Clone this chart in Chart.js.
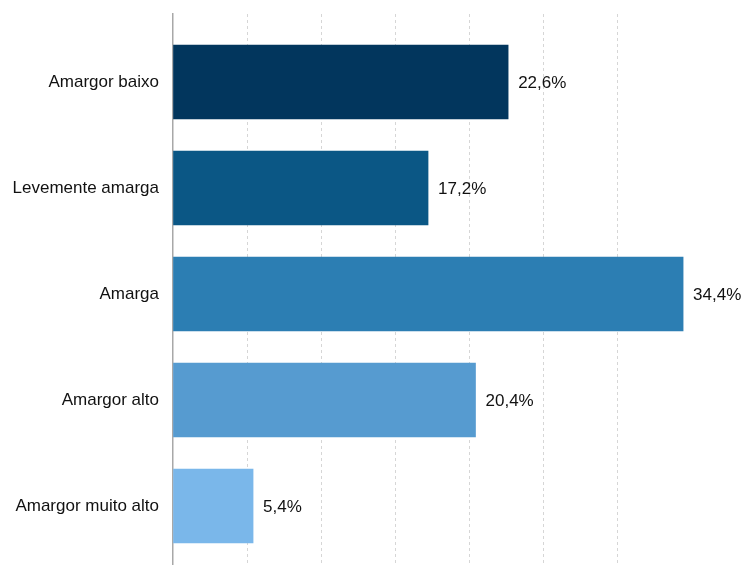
<!DOCTYPE html>
<html>
<head>
<meta charset="utf-8">
<script src="https://cdn.jsdelivr.net/npm/chart.js@4"></script>
<style>
  html, body { margin: 0; padding: 0; background: #ffffff; }
  #wrap { width: 742px; height: 565px; }
</style>
</head>
<body>
<div id="wrap"><canvas id="c" width="742" height="565"></canvas></div>
<script>
const categories = ["Amargor baixo", "Levemente amarga", "Amarga", "Amargor alto", "Amargor muito alto"];
const values = [22.6, 17.2, 34.4, 20.4, 5.4];
const valueLabels = ["22,6%", "17,2%", "34,4%", "20,4%", "5,4%"];
const barColors = ["#02365d", "#0b5785", "#2c7eb3", "#569bd0", "#7ab7ea"];

const FONT = '"Liberation Sans", Arial, sans-serif';

const valueLabelPlugin = {
  id: 'valueLabels',
  afterDatasetsDraw(chart) {
    const ctx = chart.ctx;
    const meta = chart.getDatasetMeta(0);
    ctx.save();
    ctx.font = '17px ' + FONT;
    ctx.fillStyle = '#111111';
    ctx.textAlign = 'left';
    ctx.textBaseline = 'middle';
    meta.data.forEach((bar, i) => {
      ctx.fillText(valueLabels[i], bar.x + 10, bar.y + 1);
    });
    ctx.restore();
  }
};

new Chart(document.getElementById('c'), {
  type: 'bar',
  data: {
    datasets: [{
      data: values.map((v, i) => ({ x: v, y: i })),
      backgroundColor: barColors,
      borderWidth: 0,
      barThickness: 74
    }]
  },
  options: {
    indexAxis: 'y',
    responsive: false,
    animation: false,
    layout: { padding: { top: 14, right: 50, bottom: 0, left: 0 } },
    plugins: { legend: { display: false }, tooltip: { enabled: false } },
    scales: {
      x: {
        type: 'linear',
        min: 0,
        max: 35,
        offset: false,
        ticks: { display: false, stepSize: 5 },
        grid: {
          drawTicks: false,
          lineWidth: 1,
          color: (c) => (c.tick && (c.tick.value === 0 || c.tick.value >= 35)) ? 'rgba(0,0,0,0)' : '#d6d6d6'
        },
        border: { display: false, dash: [3, 3] },
        afterFit(s) { s.height = 0; s.paddingLeft = 0; s.paddingRight = 0; }
      },
      y: {
        type: 'linear',
        reverse: true,
        offset: false,
        min: -0.6415,
        max: 4.557,
        ticks: {
          stepSize: 1,
          autoSkip: false,
          padding: 14,
          color: '#111111',
          font: { family: FONT, size: 17 },
          callback: (v) => {
            const r = Math.round(v);
            return Math.abs(v - r) < 1e-6 && categories[r] !== undefined ? categories[r] : '';
          }
        },
        grid: { display: false, drawTicks: false },
        border: { display: true, color: '#a8a8a8', width: 1.5 },
        afterFit(s) { s.width = 173; s.paddingTop = 0; s.paddingBottom = 0; }
      }
    }
  },
  plugins: [valueLabelPlugin]
});
</script>
</body>
</html>
